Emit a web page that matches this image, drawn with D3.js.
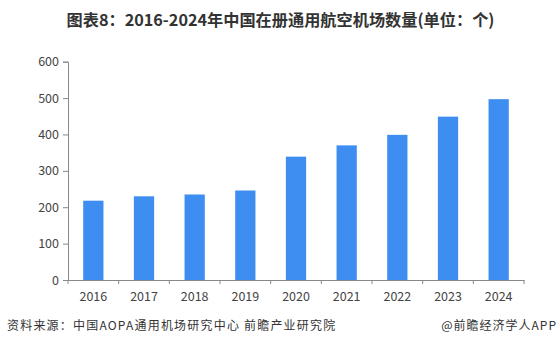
<!DOCTYPE html>
<html><head><meta charset="utf-8">
<script src="https://cdn.jsdelivr.net/npm/d3@7"></script>
<style>body{margin:0;background:#fff}svg{display:block}</style>
</head><body><svg id="c" width="560" height="346"></svg>
<script>
const categories = ["2016","2017","2018","2019","2020","2021","2022","2023","2024"];
const values = [218, 230, 235, 246, 339, 370, 399, 449, 497];
const yTicks = [0,100,200,300,400,500,600];
const title = "图表8：2016-2024年中国在册通用航空机场数量(单位：个)";
const source = "资料来源：中国AOPA通用机场研究中心 前瞻产业研究院";
const credit = "@前瞻经济学人APP";

const svg = d3.select("#c");
const mLeft = 68, mRight = 524, mTop = 61.7, mBottom = 280;
const x = d3.scaleBand().domain(categories).range([mLeft, mRight]).paddingInner(0.6).paddingOuter(0.3);
const y = d3.scaleLinear().domain([0,600]).range([mBottom, mTop]);
const font = "'Noto Sans CJK SC','Microsoft YaHei',sans-serif";

svg.append("text").attr("x", 280.5).attr("y", 26).attr("text-anchor","middle")
  .attr("font-family", font).attr("font-size", 16.2).attr("font-weight","bold").attr("fill","#333").text(title);

const yAxis = svg.append("g").attr("transform",`translate(${mLeft},0)`)
  .call(d3.axisLeft(y).tickValues(yTicks).tickSize(5).tickPadding(4));
const xBand = d3.scaleBand().domain(categories).range([mLeft,mRight]);
const xAxis = svg.append("g").attr("transform",`translate(0,${mBottom})`)
  .call(d3.axisBottom(xBand).tickSize(0).tickPadding(12));
const bounds = d3.range(categories.length+1).map(i => mLeft + i*xBand.step());
xAxis.selectAll("line.b").data(bounds).enter().append("line").attr("class","b")
  .attr("x1",d=>d).attr("x2",d=>d).attr("y1",0).attr("y2",4).attr("stroke","#888");
[yAxis, xAxis].forEach(g=>{
  g.selectAll("path.domain").attr("stroke","#888");
  g.selectAll(".tick line").attr("stroke","#888");
  g.selectAll("text").attr("font-family", font).attr("font-size", 12.5).attr("fill","#444");
});

svg.append("g").selectAll("rect").data(values).enter().append("rect")
  .attr("x",(d,i)=>x(categories[i])).attr("width",x.bandwidth())
  .attr("y",d=>y(d)).attr("height",d=>mBottom-y(d)).attr("fill","#3d8ef0");

svg.append("text").attr("x",7).attr("y",330).attr("font-family",font).attr("font-size",12)
  .attr("letter-spacing",1.2).attr("fill","#333").text(source);
svg.append("text").attr("x",557).attr("y",330).attr("text-anchor","end").attr("font-family",font).attr("font-size",12)
  .attr("letter-spacing",1.0).attr("fill","#333").text(credit);
</script></body></html>
